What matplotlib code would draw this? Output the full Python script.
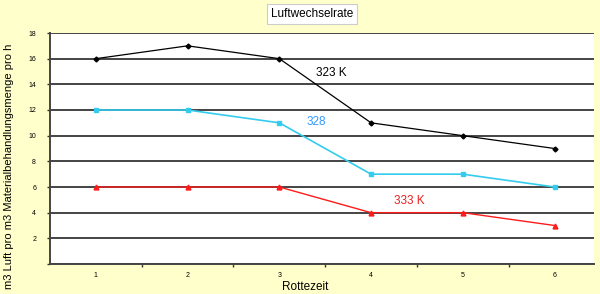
import matplotlib.pyplot as plt
import numpy as np

plt.rcParams['font.family'] = ['Liberation Sans', 'DejaVu Sans']

# Rottezeit categories and the three temperature series
rottezeit = [1, 2, 3, 4, 5, 6]
k323 = [16, 17, 16, 11, 10, 9]
k328 = [12, 12, 11, 7, 7, 6]
k333 = [6, 6, 6, 4, 4, 3]
yticks = [0, 2, 4, 6, 8, 10, 12, 14, 16, 18]

bg = "#FFFFCC"

fig = plt.figure(figsize=(6, 2.94), dpi=100, facecolor=bg)
ax = fig.add_axes([50/600, 30/294, 544/600, 231/294])
ax.set_facecolor("white")

ax.plot(rottezeit, k323, color="black", lw=0.9, marker="D", ms=2.5)
ax.plot(rottezeit, k328, color="#33CCEE", lw=1.2, marker="s", ms=3)
ax.plot(rottezeit, k333, color="#FF1A1A", lw=1.0, marker="^", ms=3.5)

ax.text(3.57, 14.9, "323 K", color="black", fontsize=8.5, ha="center", va="center")
ax.text(3.40, 11.05, "328", color="#3399FF", fontsize=8.5, ha="center", va="center")
ax.text(4.42, 4.9, "333 K", color="#EE2020", fontsize=8.5, ha="center", va="center")

ax.set_xlim(0.5, 6.43)
ax.set_ylim(0, 18)
ax.set_yticks(yticks)
ax.set_yticklabels([str(v) if v else "" for v in yticks])
ax.set_xticks(rottezeit)
ax.set_xticks(np.arange(1.5, 6.5, 1), minor=True)
ax.tick_params(axis="x", which="major", length=0, labelsize=5, pad=6)
ax.tick_params(axis="x", which="minor", length=2, width=1, color="#333333")
ax.tick_params(axis="y", length=2, width=1, labelsize=5, pad=8, color="#333333")
ax.grid(axis="y", color="#444444", lw=1.4)
ax.set_axisbelow(True)

for s in ["top", "right"]:
    ax.spines[s].set_visible(False)
for s in ["left", "bottom"]:
    ax.spines[s].set_color("#444444")
    ax.spines[s].set_linewidth(1.4)

fig.text(305/600, 1 - 287/294, "Rottezeit", fontsize=8.5, ha="center", va="center")
fig.text(9/600, 1 - 166/294, "m3 Luft pro m3 Materialbehandlungsmenge pro h",
         rotation=90, fontsize=8, ha="center", va="center")

fig.text(312/600, 1 - 14/294, "Luftwechselrate", fontsize=8.5, ha="center", va="center",
         bbox=dict(boxstyle="square,pad=0.3", fc="white", ec="#CCCCCC", lw=0.8))

plt.savefig("out.png", dpi=100, facecolor=bg)
